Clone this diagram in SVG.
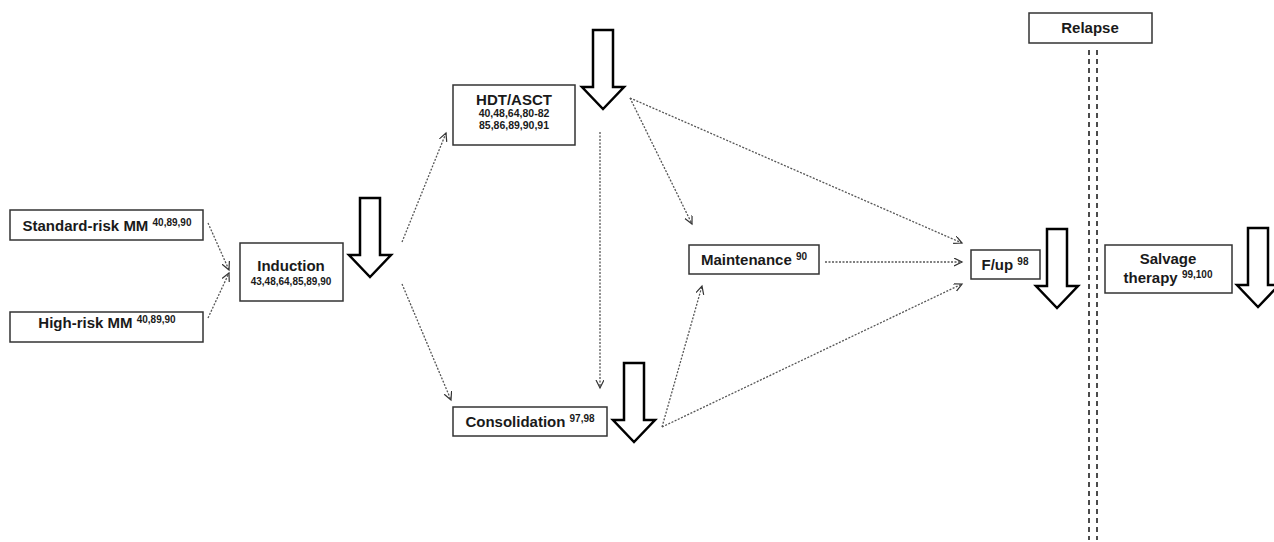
<svg xmlns="http://www.w3.org/2000/svg" width="1274" height="542" viewBox="0 0 1274 542">
<style>
.box{fill:#fff;stroke:#333;stroke-width:1.5}
.t{font-family:"Liberation Sans",Arial,sans-serif;font-weight:bold;fill:#1a1a1a;font-size:15px;text-anchor:middle}
.s{font-size:10px}
.blk{fill:#fff;stroke:#000;stroke-width:2.5;stroke-linejoin:miter}
.c{fill:none;stroke:#555;stroke-width:1.3;stroke-dasharray:2,1.5}
.dl{fill:none;stroke:#111;stroke-width:1.5;stroke-dasharray:5,4}
</style>
<defs>
<marker id="ah" markerWidth="10" markerHeight="10" refX="8" refY="4" orient="auto" markerUnits="userSpaceOnUse">
<path d="M0,0 L8,4 L0,8" fill="none" stroke="#333" stroke-width="1.2"/>
</marker>
<path id="bigArrow" d="M-10,0 H10 V57 H21 L0,79 L-21,57 H-10 Z"/>
</defs>
<rect width="1274" height="542" fill="#fff"/>

<g id="connectors">
<line class="c" x1="208" y1="223" x2="229" y2="270" marker-end="url(#ah)"/>
<line class="c" x1="208" y1="318" x2="229" y2="273" marker-end="url(#ah)"/>
<line class="c" x1="402" y1="242" x2="446" y2="133" marker-end="url(#ah)"/>
<line class="c" x1="402" y1="284" x2="451" y2="400" marker-end="url(#ah)"/>
<line class="c" x1="600" y1="132" x2="600" y2="388" marker-end="url(#ah)"/>
<line class="c" x1="630" y1="98" x2="692" y2="224" marker-end="url(#ah)"/>
<line class="c" x1="630" y1="98" x2="962" y2="243" marker-end="url(#ah)"/>
<line class="c" x1="662" y1="427" x2="702" y2="286" marker-end="url(#ah)"/>
<line class="c" x1="662" y1="427" x2="962" y2="284" marker-end="url(#ah)"/>
<line class="c" x1="825" y1="262" x2="962" y2="262" marker-end="url(#ah)"/>
<line class="dl" x1="1089" y1="50" x2="1089" y2="540"/>
<line class="dl" x1="1097" y1="50" x2="1097" y2="540"/>
</g>

<g id="standard-risk">
<rect class="box" x="10" y="210" width="193" height="30"/>
<text class="t" x="107" y="231">Standard-risk MM <tspan class="s" dy="-5">40,89,90</tspan></text>
</g>
<g id="high-risk">
<rect class="box" x="10" y="312" width="193" height="30"/>
<text class="t" x="107" y="328">High-risk MM <tspan class="s" dy="-5">40,89,90</tspan></text>
</g>
<g id="induction">
<rect class="box" x="240" y="243" width="103" height="58"/>
<text class="t" x="291" y="271">Induction</text>
<text class="t s" x="291" y="285">43,48,64,85,89,90</text>
<use href="#bigArrow" class="blk" transform="translate(370,198)"/>
</g>
<g id="hdt-asct">
<rect class="box" x="453" y="85" width="122" height="60"/>
<text class="t" x="514" y="105">HDT/ASCT</text>
<text class="t" style="font-size:10.5px" x="514" y="117">40,48,64,80-82</text>
<text class="t" style="font-size:10.5px" x="514" y="129">85,86,89,90,91</text>
<use href="#bigArrow" class="blk" transform="translate(603,30)"/>
</g>
<g id="consolidation">
<rect class="box" x="453" y="407" width="154" height="29"/>
<text class="t" x="530" y="427">Consolidation <tspan class="s" dy="-5">97,98</tspan></text>
<use href="#bigArrow" class="blk" transform="translate(634,363)"/>
</g>
<g id="maintenance">
<rect class="box" x="689" y="245" width="130" height="29"/>
<text class="t" x="754" y="265">Maintenance <tspan class="s" dy="-5">90</tspan></text>
</g>
<g id="fup">
<rect class="box" x="971" y="250" width="69" height="29"/>
<text class="t" x="1005" y="270">F/up <tspan class="s" dy="-5">98</tspan></text>
<use href="#bigArrow" class="blk" transform="translate(1057,229)"/>
</g>
<g id="relapse">
<rect class="box" x="1029" y="13" width="123" height="30"/>
<text class="t" x="1090" y="33">Relapse</text>
</g>
<g id="salvage">
<rect class="box" x="1105" y="245" width="127" height="48"/>
<text class="t" x="1168" y="264">Salvage</text>
<text class="t" x="1168" y="283">therapy <tspan class="s" dy="-5">99,100</tspan></text>
<use href="#bigArrow" class="blk" transform="translate(1258,228)"/>
</g>
</svg>
